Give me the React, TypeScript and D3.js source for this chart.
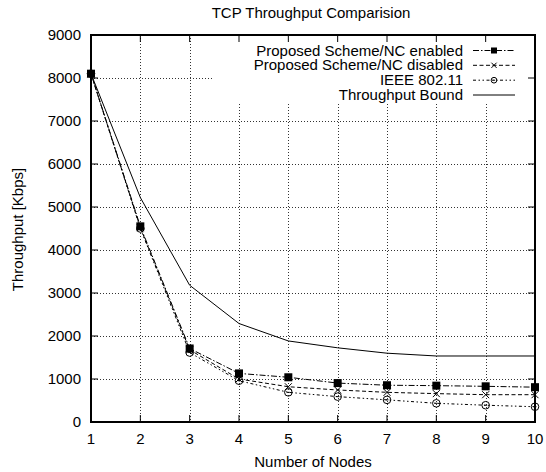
import React from "react";
import * as d3 from "d3";

const nodes = [1, 2, 3, 4, 5, 6, 7, 8, 9, 10];
const ncEnabled = [8100, 4550, 1710, 1130, 1040, 905, 855, 845, 830, 810];
const ncDisabled = [8100, 4520, 1680, 1000, 820, 745, 690, 660, 635, 635];
const ieee = [8100, 4500, 1615, 960, 690, 590, 515, 435, 390, 355];
const bound = [8100, 5220, 3180, 2290, 1885, 1725, 1600, 1535, 1535, 1535];
const yTicks = [0, 1000, 2000, 3000, 4000, 5000, 6000, 7000, 8000, 9000];
const seriesNames = [
  "Proposed Scheme/NC enabled",
  "Proposed Scheme/NC disabled",
  "IEEE 802.11",
  "Throughput Bound",
];

const W = 546, H = 472;
const L = 91, R = 535, T = 35, B = 422;
const font = "'Liberation Sans', Arial, Helvetica, sans-serif";

export default function App() {
  const x = d3.scaleLinear().domain([1, 10]).range([L, R]);
  const y = d3.scaleLinear().domain([0, 9000]).range([B, T]);
  const line = (vals: number[]) =>
    d3.line<number>().x((_, i) => x(nodes[i])).y((v) => y(v))(vals) || "";

  const series = [
    { vals: ncEnabled, dash: "6,2,1.5,2", marker: "square" },
    { vals: ncDisabled, dash: "4,2.5", marker: "cross" },
    { vals: ieee, dash: "3,2.5,1.5,2.5,1.5,2.5", marker: "circle" },
    { vals: bound, dash: "", marker: "none" },
  ];

  const marker = (kind: string, cx: number, cy: number, key: string, s = 1) => {
    if (kind === "square")
      return <rect key={key} x={cx - 4 * s} y={cy - 4 * s} width={8 * s} height={8 * s} fill="#000" />;
    if (kind === "cross") {
      const h = 3.5 * s;
      return (
        <path key={key} d={`M${cx - h},${cy - h}L${cx + h},${cy + h}M${cx - h},${cy + h}L${cx + h},${cy - h}`} stroke="#000" strokeWidth={1} />
      );
    }
    if (kind === "circle")
      return (
        <g key={key}>
          <circle cx={cx} cy={cy} r={3.8 * s} fill="#fff" fillOpacity={0} stroke="#000" strokeWidth={1} />
          <line x1={cx - 1.5 * s} x2={cx + 1.5 * s} y1={cy} y2={cy} stroke="#000" strokeWidth={1} />
        </g>
      );
    return null;
  };

  const legX1 = 473, legX2 = 515, legTextX = 463;
  const legY = [50.5, 65.3, 80.2, 95];

  return (
    <svg width={W} height={H} style={{ display: "block", position: "absolute", left: 0, top: 0 }} fontFamily={font}>
      <rect width={W} height={H} fill="#fff" />
      {/* grid */}
      <g stroke="#333" strokeWidth={1} strokeDasharray="1,2">
        {nodes.slice(1, -1).map((n) => (
          <line key={"gx" + n} x1={Math.round(x(n)) + 0.5} x2={Math.round(x(n)) + 0.5} y1={T} y2={B} />
        ))}
        {yTicks.slice(1, -1).map((t) => (
          <line key={"gy" + t} x1={L} x2={R} y1={Math.round(y(t)) + 0.5} y2={Math.round(y(t)) + 0.5} />
        ))}
      </g>
      {/* legend mask */}
      <rect x={212} y={T} width={R - 212} height={103 - T} fill="#fff" />
      {/* ticks */}
      <g stroke="#000" strokeWidth={1}>
        {nodes.map((n) => (
          <g key={"tx" + n}>
            <line x1={x(n)} x2={x(n)} y1={B} y2={B - 7} />
            <line x1={x(n)} x2={x(n)} y1={T} y2={T + 7} />
          </g>
        ))}
        {yTicks.map((t) => (
          <g key={"ty" + t}>
            <line x1={L} x2={L + 7} y1={y(t)} y2={y(t)} />
            <line x1={R} x2={R - 7} y1={y(t)} y2={y(t)} />
          </g>
        ))}
      </g>
      {/* series */}
      {series.map((s, si) => (
        <g key={"s" + si}>
          <path d={line(s.vals)} fill="none" stroke="#000" strokeWidth={1} strokeDasharray={s.dash || undefined} />
          {s.vals.map((v, i) => marker(s.marker, x(nodes[i]), y(v), `m${si}-${i}`))}
        </g>
      ))}
      {/* border */}
      <rect x={L} y={T} width={R - L} height={B - T} fill="none" stroke="#000" strokeWidth={2} />
      {/* tick labels */}
      <g fontSize={15} fill="#000">
        {nodes.map((n) => (
          <text key={"lx" + n} x={x(n)} y={444} textAnchor="middle">{n}</text>
        ))}
        {yTicks.map((t) => (
          <text key={"ly" + t} x={81} y={y(t) + 5} textAnchor="end">{t}</text>
        ))}
      </g>
      {/* legend */}
      <g fontSize={15} fill="#000">
        {series.map((s, si) => (
          <g key={"leg" + si}>
            <text x={legTextX} y={legY[si] + 5} textAnchor="end">{seriesNames[si]}</text>
            <line x1={legX1} x2={legX2} y1={legY[si]} y2={legY[si]} stroke="#000" strokeWidth={1} strokeDasharray={s.dash || undefined} />
            {marker(s.marker, (legX1 + legX2) / 2, legY[si], "lm" + si, 0.75)}
          </g>
        ))}
      </g>
      {/* titles */}
      <text x={311} y={17.5} textAnchor="middle" fontSize={15}>TCP Throughput Comparision</text>
      <text x={313} y={467} textAnchor="middle" fontSize={15}>Number of Nodes</text>
      <text transform={`translate(23,${(T + B) / 2 + 1}) rotate(-90)`} textAnchor="middle" fontSize={15}>Throughput [Kbps]</text>
    </svg>
  );
}
